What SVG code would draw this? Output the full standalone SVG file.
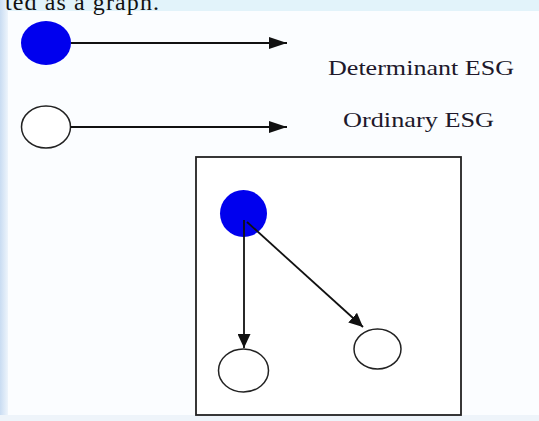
<svg xmlns="http://www.w3.org/2000/svg" width="539" height="421" viewBox="0 0 539 421">
<defs>
<style>
.edge{stroke:#111;stroke-width:1.8;fill:none}
.det{fill:#0000ee;stroke:none}
.ord{fill:#fff;stroke:#222;stroke-width:1.5}
.lbl{font-family:"Liberation Serif","Times New Roman",serif;font-size:22px;fill:#20182a}
</style>
<marker id="ah" viewBox="0 0 18 12" refX="18" refY="6" markerWidth="18" markerHeight="12" markerUnits="userSpaceOnUse" orient="auto">
<path d="M0,0 L18,6 L0,12 z" fill="#111"/>
</marker>
<marker id="ah2" viewBox="0 0 14 13" refX="14" refY="6.5" markerWidth="14" markerHeight="13" markerUnits="userSpaceOnUse" orient="auto">
<path d="M0,0 L14,6.5 L0,13 z" fill="#111"/>
</marker>
<linearGradient id="lg" x1="0" y1="0" x2="1" y2="0">
<stop offset="0" stop-color="#c9dcf2"/>
<stop offset="1" stop-color="#eef5fc"/>
</linearGradient>
</defs>
<rect x="0" y="0" width="539" height="421" fill="#fbfdff"/>
<rect x="0" y="0" width="539" height="11" fill="#e2f3fa"/>
<rect x="0" y="0" width="8" height="421" fill="url(#lg)"/>
<rect x="0" y="415" width="539" height="6" fill="#eef4fa"/>
<text x="5" y="10" class="lbl" style="font-size:24px;fill:#111" textLength="154">ted as a graph.</text>
<g id="legend-det">
<ellipse class="det" cx="46" cy="43" rx="25" ry="22"/>
</g>
<g id="legend-ord">
<ellipse class="ord" cx="46" cy="127" rx="24.5" ry="21"/>
</g>
<g id="label-det"><text class="lbl" x="328" y="75" textLength="186" lengthAdjust="spacingAndGlyphs">Determinant ESG</text></g>
<g id="label-ord"><text class="lbl" x="343" y="127" textLength="151" lengthAdjust="spacingAndGlyphs">Ordinary ESG</text></g>
<g id="frame"><rect x="196" y="157" width="265" height="258" fill="#fff" stroke="#222" stroke-width="1.8"/></g>
<g id="n-root"><circle class="det" cx="243.5" cy="213.5" r="23.5"/></g>
<g id="n-left"><ellipse class="ord" cx="243.5" cy="370.5" rx="25" ry="21.5"/></g>
<g id="n-right"><ellipse class="ord" cx="377.5" cy="349" rx="23.5" ry="20"/></g>
<g id="connectors">
<line class="edge" x1="71" y1="43" x2="287" y2="43" marker-end="url(#ah)"/>
<line class="edge" x1="70.5" y1="127" x2="287" y2="127" marker-end="url(#ah)"/>
<line class="edge" x1="244" y1="220" x2="244" y2="348" marker-end="url(#ah2)"/>
<line class="edge" x1="247" y1="222" x2="363" y2="327" marker-end="url(#ah2)"/>
</g>
</svg>
